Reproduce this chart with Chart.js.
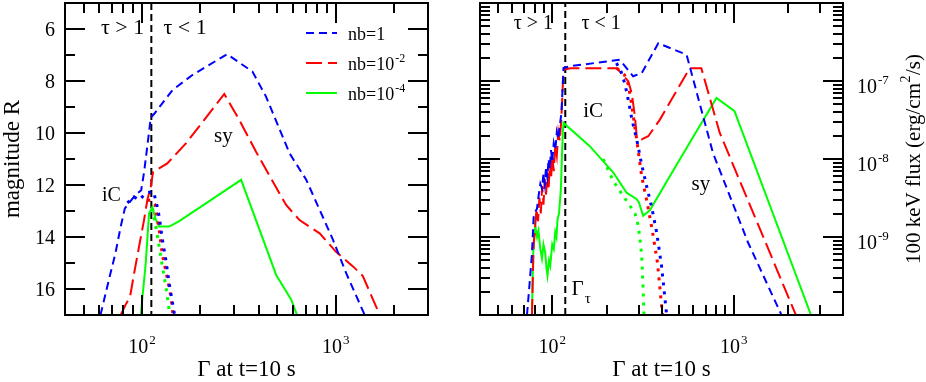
<!DOCTYPE html>
<html>
<head>
<meta charset="utf-8">
<script src="https://cdn.jsdelivr.net/npm/chart.js@4.4.1/dist/chart.umd.min.js"></script>
<style>
  body { margin: 0; background: #fff; }
  #wrap { position: relative; width: 926px; height: 382px; }
  #magChart { position: absolute; left: 0; top: 0; }
  #fluxChart { position: absolute; left: 460px; top: 0; }
</style>
</head>
<body>
<div id="wrap">
  <canvas id="magChart" width="460" height="382"></canvas>
  <canvas id="fluxChart" width="466" height="382"></canvas>
</div>
<script>
/*** data : [Gamma, value] */

// left panel, magnitude R
const magNb1   = [[61,17],[67.4,15.65],[73,14.6],[77.6,13.6],[81.5,12.9],[84.5,12.75],[92,12.4],[99,12.2],[102.5,11.5],[106.5,10.5],[111,9.4],[116,9.25],[143.6,8.35],[182,7.77],[275,6.97],[372,7.64],[437,8.6],[578,10.78],[705,11.8],[968,14.1],[1135,15.4],[1413,17]];
const magNb1Ic = [[84,12.69],[91,12.46],[96.5,12.58],[105.3,12.3],[114.4,12.26],[117.8,12.58],[122.5,13.2],[127.4,14.1],[132.7,14.88],[138,15.77],[146.5,16.9],[148,17.1]];
const magNb2   = [[77.6,17],[82.3,16.6],[86.7,16.3],[91,15.4],[96.5,14.37],[102.4,13.35],[106.5,12.58],[110.9,12.07],[114,11.5],[135,11.17],[168.5,10.4],[266,8.5],[318,9.5],[388,10.72],[455,11.64],[555,12.77],[651,13.35],[827,13.86],[1005,14.57],[1233,15.14],[1382,15.5],[1690,17]];
const magNb2Ic = [[106.5,12.6],[110.9,12.57],[116.8,12.76],[122.5,13.7],[127.4,14.7],[133.6,15.4],[141,16.3],[145,17.1]];
const magNb4   = [[98.5,17],[104.5,15.0],[108.7,13.1],[113,12.85],[117.5,13.3],[122.5,13.6],[138,13.6],[155,13.4],[325,11.8],[493,15.46],[589,16.4],[632,17]];
const magNb4Ic = [[113,12.9],[117.8,13.6],[122.5,14.37],[127.4,15.14],[132.7,15.9],[138,16.8],[140,17.1]];

// right panel, 100 keV flux
const fluxNb1   = [[72.6,1.0e-10],[75,2.5e-10],[77.3,6e-10],[79,1.8e-9],[80.6,2.1e-9],[82.4,2.3e-9],[84,3.3e-9],[86,4.8e-9],[87.8,4.2e-9],[89.5,6.5e-9],[91,4.8e-9],[92.5,8e-9],[94,6e-9],[95.5,1.0e-8],[97,7.5e-9],[98.5,1.3e-8],[100,9.5e-9],[102,1.6e-8],[104,1.3e-8],[106,2.2e-8],[108,1.8e-8],[110.6,2.9e-8],[112.5,4e-8],[115.4,1.47e-7],[125.6,1.55e-7],[236,1.87e-7],[279,1.15e-7],[311,1.26e-7],[384,3.05e-7],[550,2.17e-7],[768,1.2e-8],[1199,8.5e-10],[1833,1.0e-10]];
const fluxNb1Ic = [[226,1.7e-7],[240,1.3e-7],[252,9e-8],[262,5.8e-8],[275,3.2e-8],[292,1.78e-8],[311,8.5e-9],[331,4.5e-9],[352,2.5e-9],[376,1.15e-9],[400,4.3e-10],[427,1.0e-10]];
const fluxNb2   = [[77.3,1e-10],[79,8e-10],[80.6,1.4e-9],[82,2.3e-9],[83.5,1.6e-9],[85,3.2e-9],[86.5,2e-9],[88,4.5e-9],[89.5,2.6e-9],[91,5.5e-9],[92.5,3.5e-9],[94,6.5e-9],[95.5,4e-9],[97,9e-9],[98.5,5.5e-9],[100,1.1e-8],[102,7e-9],[104,1.5e-8],[106,1.1e-8],[108,2.2e-8],[110,1.7e-8],[112,3e-8],[115.4,1.39e-7],[125.6,1.46e-7],[226.7,1.46e-7],[262.5,9.9e-8],[274,7e-8],[285.6,3.5e-8],[292,1.96e-8],[311,1.78e-8],[338,1.96e-8],[392,3.2e-8],[572,1.46e-7],[663,1.46e-7],[837,2.17e-8],[2200,1e-10]];
const fluxNb2Ic = [[226.7,1.46e-7],[250,1.2e-7],[262.5,9e-8],[274,5e-8],[283,2.9e-8],[292,1.78e-8],[311,6e-9],[331,3e-9],[355,1.26e-9],[380,4.7e-10],[405,1.0e-10]];
const fluxNb4   = [[77.3,1e-10],[78.5,6e-10],[80.6,1.4e-9],[82.5,1.0e-9],[84,1.2e-9],[86,7e-10],[87.8,5.3e-10],[89.5,8e-10],[91.5,6.3e-10],[93,4e-10],[94.2,3.2e-10],[96,5e-10],[97.5,4.3e-10],[100,8e-10],[102,7e-10],[103.9,1.15e-9],[105.5,1.0e-9],[107,1.7e-9],[109,2e-9],[111.6,4.1e-9],[113,1.0e-8],[114.4,2.2e-8],[115.4,2.9e-8],[161,1.46e-8],[217,6.7e-9],[257,3.7e-9],[292,3.05e-9],[300,2.8e-9],[317,1.87e-9],[345,2.2e-9],[505,9.9e-9],[803,6.07e-8],[1010,4.1e-8],[2665,1e-10]];
const fluxNb4Ic = [[191,1.0e-8],[217,5.2e-9],[257,2.9e-9],[286,2.0e-9],[298,1.39e-9],[305,9e-10],[311,5.8e-10],[316,2.5e-10],[320,1.0e-10]];

// tau = 1 boundary
const gammaTauLeft = 111.7;
const gammaTauRight = 118;

/*** ticks */
const gammaMajor = [100, 1000];
const gammaMinor = [50,60,70,80,90,200,300,400,500,600,700,800,900,2000,3000];
const magMajor = [6,8,10,12,14,16];
const magMinor = [7,9,11,13,15];
const fluxMajor = [1e-9, 1e-8, 1e-7];
const fluxDecades = [1e-10, 1e-9, 1e-8, 1e-7];
const minorMults = [2,3,4,5,6,7,8,9];
const fluxMinor = [];
fluxDecades.forEach(d => minorMults.forEach(m => fluxMinor.push(m * d)));

const seriesNames = [['nb=1',''], ['nb=10','-2'], ['nb=10','-4']];
const serif = '"Liberation Serif", "Times New Roman", serif';

/*** helpers */
function line(pts, color, dash, width) {
  return {
    data: pts.map(p => ({x: p[0], y: p[1]})),
    borderColor: color, borderDash: dash, borderWidth: width,
    showLine: true, pointRadius: 0, fill: false, tension: 0
  };
}

function drawPow(ctx, base, exp, x, y, size, align) {
  ctx.textBaseline = 'alphabetic';
  ctx.textAlign = 'left';
  ctx.font = size + 'px ' + serif;
  const bw = ctx.measureText(base).width;
  const es = Math.round(size * 0.65);
  ctx.font = es + 'px ' + serif;
  const ew = exp ? ctx.measureText(exp).width + 1 : 0;
  let x0 = x;
  if (align === 'center') x0 = x - (bw + ew) / 2;
  if (align === 'right') x0 = x - bw - ew;
  ctx.font = size + 'px ' + serif;
  ctx.fillText(base, x0, y);
  if (exp) {
    ctx.font = es + 'px ' + serif;
    ctx.fillText(exp, x0 + bw + 1, y - size * 0.45);
  }
}

/*** frame, inner ticks, labels, notes */
const decor = {
  id: 'decor',
  afterDraw(chart, args, o) {
    const {ctx, chartArea: a} = chart;
    const x = chart.scales.x, y = chart.scales.y;
    ctx.save();
    ctx.setLineDash([]);
    ctx.globalAlpha = 1;
    ctx.strokeStyle = '#000';
    ctx.fillStyle = '#000';
    ctx.lineWidth = 2;
    const tick = (scale, vals, len) => {
      vals.forEach(v => {
        const p = Math.round(scale.getPixelForValue(v));
        ctx.beginPath();
        if (scale.isHorizontal()) {
          ctx.moveTo(p, a.bottom); ctx.lineTo(p, a.bottom - len);
          ctx.moveTo(p, a.top); ctx.lineTo(p, a.top + len);
        } else {
          ctx.moveTo(a.left, p); ctx.lineTo(a.left + len, p);
          ctx.moveTo(a.right, p); ctx.lineTo(a.right - len, p);
        }
        ctx.stroke();
      });
    };
    tick(x, o.xMajor, 20); tick(x, o.xMinor, 10);
    tick(y, o.yMajor, 20); tick(y, o.yMinor, 10);
    ctx.strokeRect(a.left, a.top, a.right - a.left, a.bottom - a.top);

    o.xMajor.forEach(v => drawPow(ctx, '10', String(Math.round(Math.log10(v))), x.getPixelForValue(v), a.bottom + 38, 20, 'center'));
    if (o.yLog) {
      o.yMajor.forEach(v => drawPow(ctx, '10', String(Math.round(Math.log10(v))), a.right + 14, y.getPixelForValue(v) + 12, 20, 'left'));
      // right axis title, reading upward
      ctx.save();
      ctx.translate(a.right + 70, (a.top + a.bottom) / 2);
      ctx.rotate(-Math.PI / 2);
      ctx.font = '21px ' + serif;
      const t1 = '100 keV flux (erg/cm', t2 = '/s)';
      const w1 = ctx.measureText(t1).width, w2 = ctx.measureText(t2).width;
      ctx.font = '14px ' + serif;
      const ws = ctx.measureText('2').width + 1;
      const sx = -(w1 + ws + w2) / 2;
      ctx.textBaseline = 'alphabetic'; ctx.textAlign = 'left';
      ctx.font = '21px ' + serif;
      ctx.fillText(t1, sx, 7);
      ctx.font = '14px ' + serif;
      ctx.fillText('2', sx + w1 + 0.5, -3);
      ctx.font = '21px ' + serif;
      ctx.fillText(t2, sx + w1 + ws, 7);
      ctx.restore();
    } else {
      o.yMajor.forEach(v => drawPow(ctx, String(v), '', a.left - 10, y.getPixelForValue(v) + 7, 20, 'right'));
    }

    o.notes.forEach(n => {
      ctx.font = n.size + 'px ' + serif;
      ctx.textAlign = 'center';
      ctx.textBaseline = 'middle';
      const px = x.getPixelForValue(n.x), py = y.getPixelForValue(n.y);
      ctx.fillText(n.text, px, py);
      if (n.sub) {
        const w = ctx.measureText(n.text).width;
        ctx.font = Math.round(n.size * 0.7) + 'px ' + serif;
        ctx.textAlign = 'left';
        ctx.fillText(n.sub, px + w / 2 + 1, py + 9);
      }
    });

    if (o.legend) {
      o.legend.forEach((it, i) => {
        const ly = a.top + 30 + i * 30;
        ctx.beginPath();
        ctx.setLineDash(it.dash);
        ctx.strokeStyle = it.color;
        ctx.lineWidth = 2;
        ctx.moveTo(a.right - 122, ly);
        ctx.lineTo(a.right - 91, ly);
        ctx.stroke();
        ctx.setLineDash([]);
        ctx.fillStyle = '#000';
        drawPow(ctx, it.name[0], it.name[1], a.right - 80, ly + 7, 18, 'left');
      });
    }
    ctx.restore();
  }
};

const blue = '#0000ff', red = '#ff0000', green = '#00ff00';
const dBlue = [8, 5], dRed = [16, 6], dDot = [3, 6], dTau = [7, 4];

function gammaAxis(min, max) {
  return {
    type: 'logarithmic', min: min, max: max,
    grid: {display: false, drawTicks: false}, border: {display: false},
    ticks: {display: false},
    title: {display: true, text: 'Γ at t=10 s', color: '#000',
            font: {family: serif, size: 23, lineHeight: 1}, padding: {top: 0, bottom: 1}},
    afterFit(s) { s.height = 67; }
  };
}

/*** left : magnitude R */
new Chart(document.getElementById('magChart'), {
  type: 'scatter',
  data: {
    datasets: [
      line(magNb1, blue, dBlue, 2),
      line(magNb1Ic, blue, dDot, 3),
      line(magNb2, red, dRed, 2),
      line(magNb2Ic, red, dDot, 3),
      line(magNb4, green, [], 2),
      line(magNb4Ic, green, dDot, 3),
      line([[gammaTauLeft, 5], [gammaTauLeft, 17]], '#000', dTau, 2)
    ]
  },
  options: {
    responsive: false, animation: false,
    layout: {autoPadding: false, padding: {left: 0, right: 32, top: 3, bottom: 0}},
    plugins: {
      legend: {display: false}, tooltip: {enabled: false},
      decor: {
        xMajor: gammaMajor, xMinor: gammaMinor,
        yMajor: magMajor, yMinor: magMinor, yLog: false,
        notes: [
          {text: 'τ > 1', x: 79.3, y: 5.98, size: 22},
          {text: 'τ < 1', x: 167, y: 5.98, size: 22},
          {text: 'sy', x: 263, y: 10.15, size: 21},
          {text: 'iC', x: 69.5, y: 12.42, size: 20}
        ],
        legend: [
          {name: seriesNames[0], color: blue, dash: dBlue},
          {name: seriesNames[1], color: red, dash: dRed},
          {name: seriesNames[2], color: green, dash: []}
        ]
      }
    },
    scales: {
      x: gammaAxis(40, 3000),
      y: {
        type: 'linear', reverse: true, min: 5, max: 17,
        grid: {display: false, drawTicks: false}, border: {display: false},
        ticks: {display: false},
        title: {display: true, text: 'magnitude R', color: '#000',
                font: {family: serif, size: 23, lineHeight: 1}, padding: {top: 1, bottom: 0}},
        afterFit(s) { s.width = 65; }
      }
    }
  },
  plugins: [decor]
});

/*** right : 100 keV flux */
new Chart(document.getElementById('fluxChart'), {
  type: 'scatter',
  data: {
    datasets: [
      line(fluxNb1, blue, dBlue, 2),
      line(fluxNb1Ic, blue, dDot, 3),
      line(fluxNb2, red, dRed, 2),
      line(fluxNb2Ic, red, dDot, 3),
      line(fluxNb4, green, [], 2),
      line(fluxNb4Ic, green, dDot, 3),
      line([[gammaTauRight, 1e-10], [gammaTauRight, 1e-6]], '#000', dTau, 2)
    ]
  },
  options: {
    responsive: false, animation: false,
    layout: {autoPadding: false, padding: {left: 20, right: 0, top: 3, bottom: 0}},
    plugins: {
      legend: {display: false}, tooltip: {enabled: false},
      decor: {
        xMajor: gammaMajor, xMinor: gammaMinor,
        yMajor: fluxMajor, yMinor: fluxMinor, yLog: true,
        notes: [
          {text: 'τ > 1', x: 78.7, y: 5.4e-7, size: 20},
          {text: 'τ < 1', x: 185.8, y: 5.4e-7, size: 20},
          {text: 'iC', x: 168, y: 4.06e-8, size: 21},
          {text: 'sy', x: 659, y: 4.74e-9, size: 21},
          {text: 'Γ', x: 138, y: 2.1e-10, size: 21, sub: 'τ'}
        ]
      }
    },
    scales: {
      x: gammaAxis(40, 4000),
      y: {
        type: 'logarithmic', position: 'right', min: 1e-10, max: 1e-6,
        grid: {display: false, drawTicks: false}, border: {display: false},
        ticks: {display: false},
        afterFit(s) { s.width = 83; }
      }
    }
  },
  plugins: [decor]
});
</script>
</body>
</html>
